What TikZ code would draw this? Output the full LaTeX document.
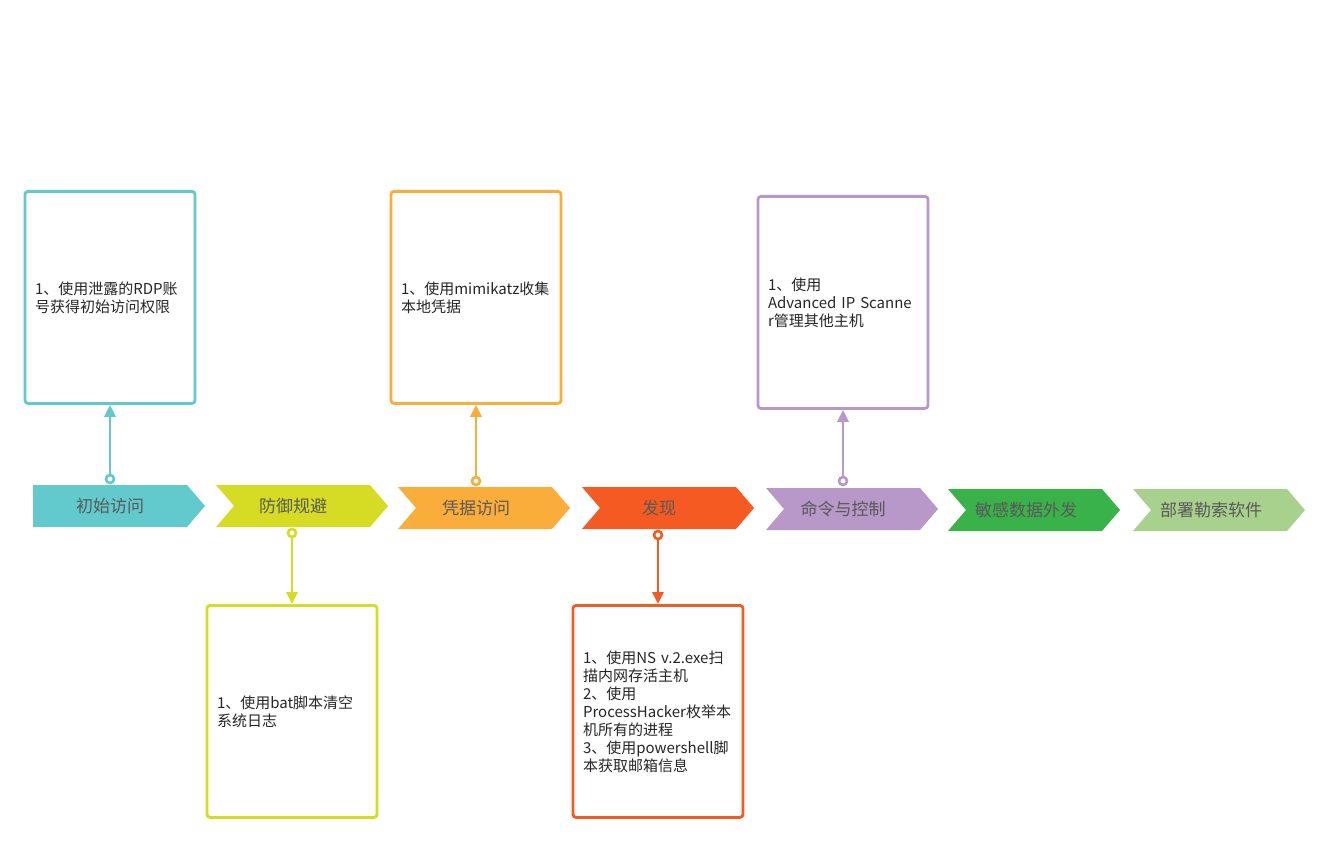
\documentclass[tikz,border=0pt]{standalone}
\usepackage{fontspec}
\setmainfont{Noto Sans CJK SC}
\usetikzlibrary{arrows.meta}
\definecolor{ccyan}{HTML}{62C9CC}
\definecolor{cyel}{HTML}{D6DC24}
\definecolor{corg}{HTML}{FBAD3B}
\definecolor{cred}{HTML}{F55A22}
\definecolor{cpur}{HTML}{B897C9}
\definecolor{cgrn}{HTML}{3AB24A}
\definecolor{clgr}{HTML}{A8D18D}
\newcommand\mychev[4]{% left x, top y, color, notch depth
  \fill[#3] (#1,#2) -- ++(154,0) -- ++(18,21) -- ++(-18,21) -- ++(-154,0) -- ++(#4,-21) -- cycle;}
\begin{document}
\begin{tikzpicture}[x=1pt,y=-1pt]
\useasboundingbox (0,0) rectangle (1328,842);
\tikzset{
  box/.style={draw=#1, line width=2.8pt, rounded corners=3pt, fill=white,
    minimum width=170pt, minimum height=212pt, text width=150pt, align=left,
    inner sep=0pt, font=\fontsize{15}{18}\selectfont, text=black!85},
  lab/.style={font=\fontsize{17}{20}\selectfont, text=black!65, inner sep=0pt},
  pinc/.style={draw=#1, line width=2.6pt, fill=white, circle, inner sep=0pt, minimum size=8pt},
  conn/.style={draw=#1, line width=2.8pt, -{Triangle[length=12pt,width=11pt,fill=#1]}},
}
% chevrons
\mychev{33}{485}{ccyan}{0}
\mychev{216}{485}{cyel}{18}
\mychev{398}{487}{corg}{18}
\mychev{582}{487}{cred}{18}
\mychev{766}{488}{cpur}{18}
\mychev{948}{489}{cgrn}{18}
\mychev{1133}{489}{clgr}{18}
% labels
\node[lab] (l1) at (110,506) {初始访问};
\node[lab] (l2) at (293,506) {防御规避};
\node[lab] (l3) at (476,508) {凭据访问};
\node[lab] (l4) at (659,508) {发现};
\node[lab] (l5) at (843,509) {命令与控制};
\node[lab] (l6) at (1026,510) {敏感数据外发};
\node[lab] (l7) at (1211,510) {部署勒索软件};
% boxes
\node[box=ccyan, anchor=north] (b1) at (110,190) {1、使用泄露的RDP账\\号获得初始访问权限};
\node[box=corg, anchor=north] (b3) at (476,190) {1、使用mimikatz收集\\本地凭据};
\node[box=cpur, anchor=north] (b5) at (843,195) {1、使用\\Advanced IP Scanne\\r管理其他主机};
\node[box=cyel, anchor=north] (b2) at (292,604) {1、使用bat脚本清空\\系统日志};
\node[box=cred, anchor=north] (b4) at (658,604) {1、使用NS v.2.exe扫\\描内网存活主机\\2、使用\\ProcessHacker枚举本\\机所有的进程\\3、使用powershell脚\\本获取邮箱信息};
% pins
\node[pinc=ccyan] (p1) at (110,479) {};
\node[pinc=corg] (p3) at (476,481) {};
\node[pinc=cpur] (p5) at (843,481) {};
\node[pinc=cyel] (p2) at (292,533) {};
\node[pinc=cred] (p4) at (658,535) {};
% connectors
\draw[conn=ccyan] (p1) -- (b1.south);
\draw[conn=corg] (p3) -- (b3.south);
\draw[conn=cpur] (p5) -- (b5.south);
\draw[conn=cyel] (p2) -- (b2.north);
\draw[conn=cred] (p4) -- (b4.north);
\end{tikzpicture}
\end{document}
